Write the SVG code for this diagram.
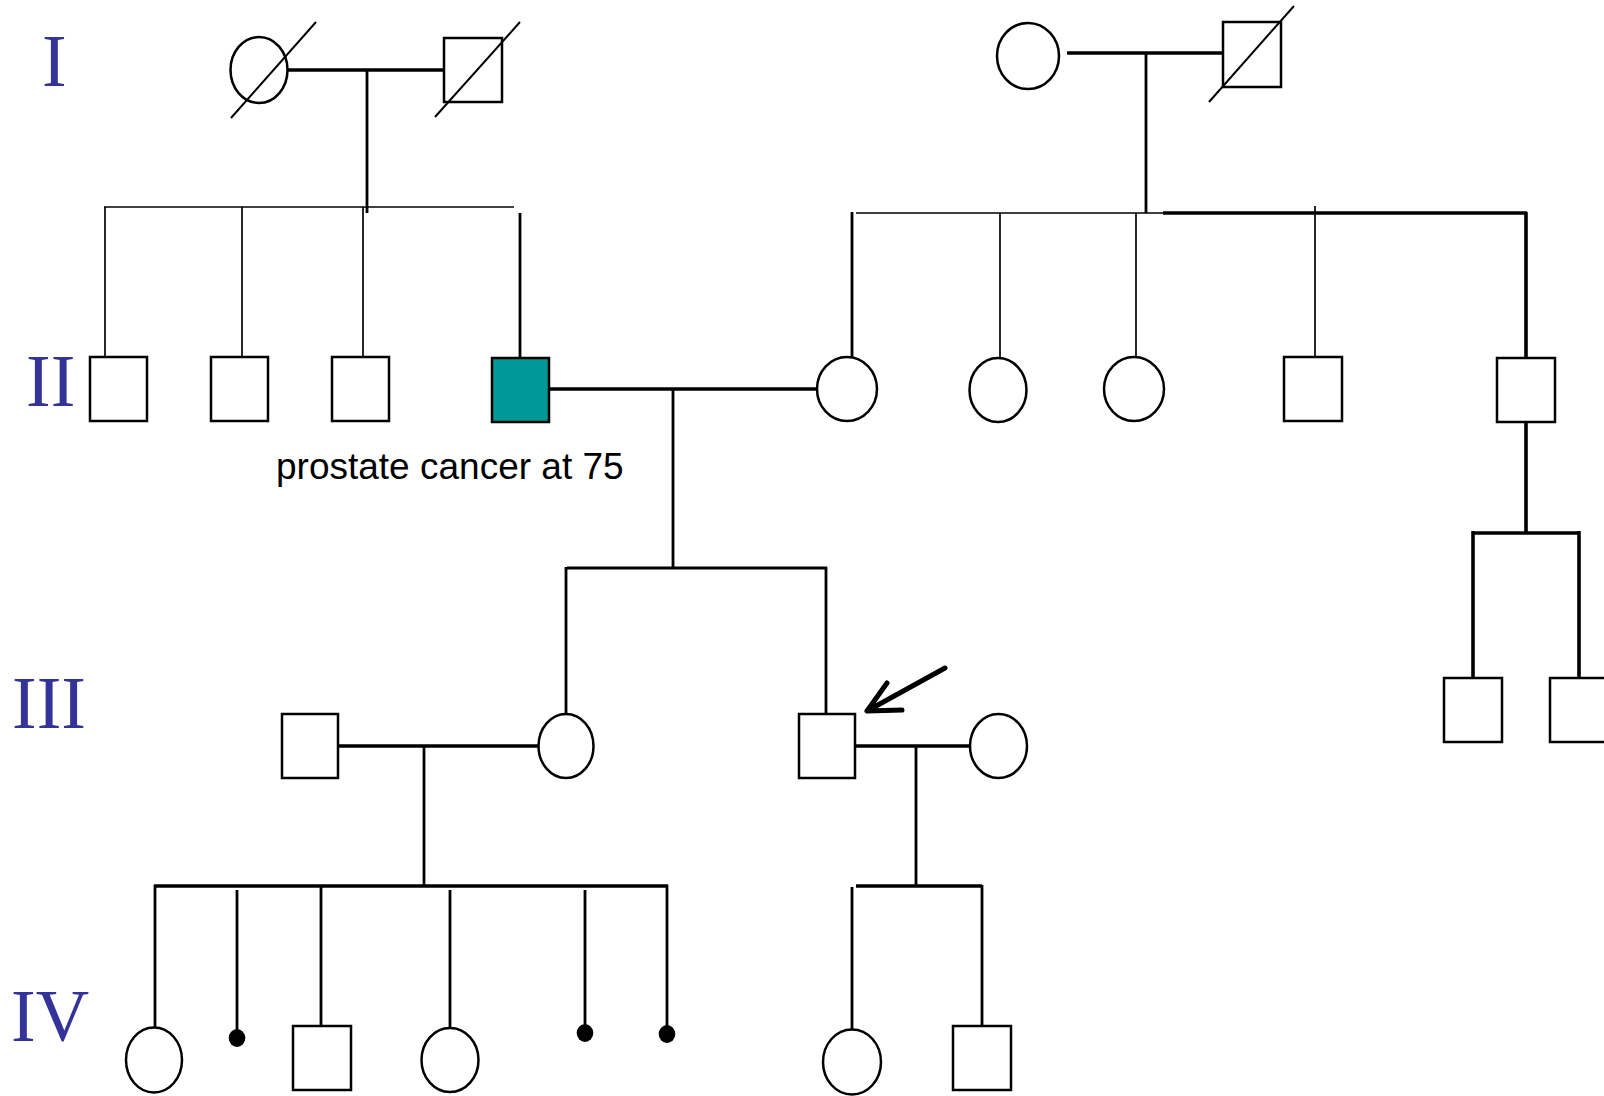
<svg xmlns="http://www.w3.org/2000/svg" width="1604" height="1096" viewBox="0 0 1604 1096">
  <style>
    .sym { fill: #ffffff; stroke: #000000; stroke-width: 2.5; }
    .affected { fill: #009999; stroke: #000000; stroke-width: 2.5; }
    .dot { fill: #000000; stroke: none; }
    .dead { stroke: #000000; stroke-width: 2; fill: none; }
    .thin { stroke: #000000; stroke-width: 1.7; fill: none; }
    .mid { stroke: #000000; stroke-width: 2.8; fill: none; }
    .thick { stroke: #000000; stroke-width: 3.6; fill: none; }
    .arrow { stroke: #000000; stroke-width: 5; fill: none; stroke-linecap: round; stroke-linejoin: round; }
    .gen { font-family: "Liberation Serif", "Times New Roman", serif; font-size: 74px; fill: #333399; }
    .note { font-family: "Liberation Sans", Arial, sans-serif; font-size: 37px; fill: #000000; }
  </style>

  <rect width="1604" height="1096" fill="#ffffff"/>

  <!-- generation numerals -->
  <g id="generations">
    <text class="gen" x="42" y="86">I</text>
    <text class="gen" x="26" y="406">II</text>
    <text class="gen" x="12" y="728">III</text>
    <text class="gen" x="11" y="1041">IV</text>
  </g>

  <!-- lines of descent and partnership -->
  <g id="connectors">
    <!-- generation I, left couple -->
    <line class="thick" x1="288" y1="70" x2="444" y2="70"/>
    <line class="mid" x1="367" y1="70" x2="367" y2="213"/>
    <line class="thin" x1="104" y1="207" x2="514" y2="207"/>
    <line class="thin" x1="105" y1="207" x2="105" y2="357"/>
    <line class="thin" x1="242" y1="207" x2="242" y2="357"/>
    <line class="thin" x1="363" y1="207" x2="363" y2="357"/>
    <line class="mid" x1="520" y1="213" x2="520" y2="358"/>

    <!-- generation I, right couple -->
    <line class="thick" x1="1067" y1="53" x2="1223" y2="53"/>
    <line class="mid" x1="1146" y1="53" x2="1146" y2="213"/>
    <line class="thin" x1="856" y1="213" x2="1163" y2="213"/>
    <line class="thick" x1="1163" y1="213" x2="1527" y2="213"/>
    <line class="mid" x1="852" y1="212" x2="852" y2="357"/>
    <line class="thin" x1="1000" y1="213" x2="1000" y2="358"/>
    <line class="thin" x1="1136" y1="213" x2="1136" y2="357"/>
    <line class="thin" x1="1315" y1="206" x2="1315" y2="357"/>
    <line class="thick" x1="1526" y1="212" x2="1526" y2="358"/>

    <!-- generation II couple -->
    <line class="thick" x1="549" y1="389" x2="818" y2="389"/>
    <line class="mid" x1="673" y1="389" x2="673" y2="568"/>
    <line class="mid" x1="567" y1="568" x2="827" y2="568"/>
    <line class="mid" x1="566" y1="567" x2="566" y2="714"/>
    <line class="mid" x1="826" y1="567" x2="826" y2="714"/>

    <!-- children of II-9 -->
    <line class="thick" x1="1526" y1="422" x2="1526" y2="533"/>
    <line class="thick" x1="1473" y1="533" x2="1579" y2="533"/>
    <line class="thick" x1="1473" y1="531" x2="1473" y2="678"/>
    <line class="thick" x1="1579" y1="531" x2="1579" y2="678"/>

    <!-- generation III couples -->
    <line class="thick" x1="338" y1="746" x2="539" y2="746"/>
    <line class="mid" x1="424" y1="746" x2="424" y2="886"/>
    <line class="thick" x1="855" y1="746" x2="970" y2="746"/>
    <line class="mid" x1="916" y1="746" x2="916" y2="886"/>

    <!-- generation IV, left sibship -->
    <line class="thick" x1="154" y1="886" x2="668" y2="886"/>
    <line class="mid" x1="155" y1="885" x2="155" y2="1028"/>
    <line class="mid" x1="237" y1="890" x2="237" y2="1034"/>
    <line class="mid" x1="321" y1="886" x2="321" y2="1026"/>
    <line class="mid" x1="450" y1="890" x2="450" y2="1028"/>
    <line class="mid" x1="585" y1="890" x2="585" y2="1030"/>
    <line class="mid" x1="667" y1="885" x2="667" y2="1030"/>

    <!-- generation IV, right sibship -->
    <line class="thick" x1="856" y1="886" x2="982" y2="886"/>
    <line class="mid" x1="852" y1="887" x2="852" y2="1030"/>
    <line class="mid" x1="982" y1="885" x2="982" y2="1030"/>
  </g>

  <!-- generation I -->
  <g id="I-1">
    <ellipse class="sym" cx="259" cy="70" rx="28.5" ry="33"/>
    <line class="dead" x1="231" y1="118" x2="316" y2="22"/>
  </g>
  <g id="I-2">
    <rect class="sym" x="444" y="38" width="58" height="64"/>
    <line class="dead" x1="435" y1="117" x2="520" y2="22"/>
  </g>
  <g id="I-3">
    <ellipse class="sym" cx="1028" cy="56" rx="31" ry="33"/>
  </g>
  <g id="I-4">
    <rect class="sym" x="1223" y="22" width="58" height="65"/>
    <line class="dead" x1="1209" y1="102" x2="1294" y2="6"/>
  </g>

  <!-- generation II -->
  <g id="II-1"><rect class="sym" x="90" y="357" width="57" height="64"/></g>
  <g id="II-2"><rect class="sym" x="211" y="357" width="57" height="64"/></g>
  <g id="II-3"><rect class="sym" x="332" y="357" width="57" height="64"/></g>
  <g id="II-4">
    <rect class="affected" x="492" y="358" width="57" height="64"/>
    <text class="note" x="276" y="479">prostate cancer at 75</text>
  </g>
  <g id="II-5"><ellipse class="sym" cx="847" cy="389" rx="30" ry="32"/></g>
  <g id="II-6"><ellipse class="sym" cx="998" cy="390" rx="28.5" ry="32"/></g>
  <g id="II-7"><ellipse class="sym" cx="1134" cy="389" rx="30" ry="32"/></g>
  <g id="II-8"><rect class="sym" x="1284" y="357" width="58" height="64"/></g>
  <g id="II-9"><rect class="sym" x="1497" y="358" width="58" height="64"/></g>

  <!-- generation III -->
  <g id="III-1"><rect class="sym" x="282" y="714" width="56" height="64"/></g>
  <g id="III-2"><ellipse class="sym" cx="566" cy="746" rx="27.5" ry="32"/></g>
  <g id="III-3">
    <rect class="sym" x="799" y="714" width="56" height="64"/>
    <path class="arrow" d="M945 668 L867 711 M887 683 L867 711 L902 710"/>
  </g>
  <g id="III-4"><ellipse class="sym" cx="998.5" cy="746" rx="28.5" ry="32"/></g>
  <g id="III-5"><rect class="sym" x="1444" y="678" width="58" height="64"/></g>
  <g id="III-6"><rect class="sym" x="1550" y="678" width="58" height="64"/></g>

  <!-- generation IV -->
  <g id="IV-1"><ellipse class="sym" cx="154" cy="1060" rx="28" ry="32.5"/></g>
  <g id="IV-2"><ellipse class="dot" cx="237" cy="1038" rx="8.3" ry="9"/></g>
  <g id="IV-3"><rect class="sym" x="293" y="1026" width="58" height="64"/></g>
  <g id="IV-4"><ellipse class="sym" cx="450" cy="1060" rx="28.5" ry="32"/></g>
  <g id="IV-5"><ellipse class="dot" cx="585" cy="1033" rx="8.3" ry="9"/></g>
  <g id="IV-6"><ellipse class="dot" cx="667" cy="1034" rx="8.3" ry="9"/></g>
  <g id="IV-7"><ellipse class="sym" cx="852" cy="1062" rx="29" ry="32.5"/></g>
  <g id="IV-8"><rect class="sym" x="953" y="1026" width="58" height="64"/></g>
</svg>
